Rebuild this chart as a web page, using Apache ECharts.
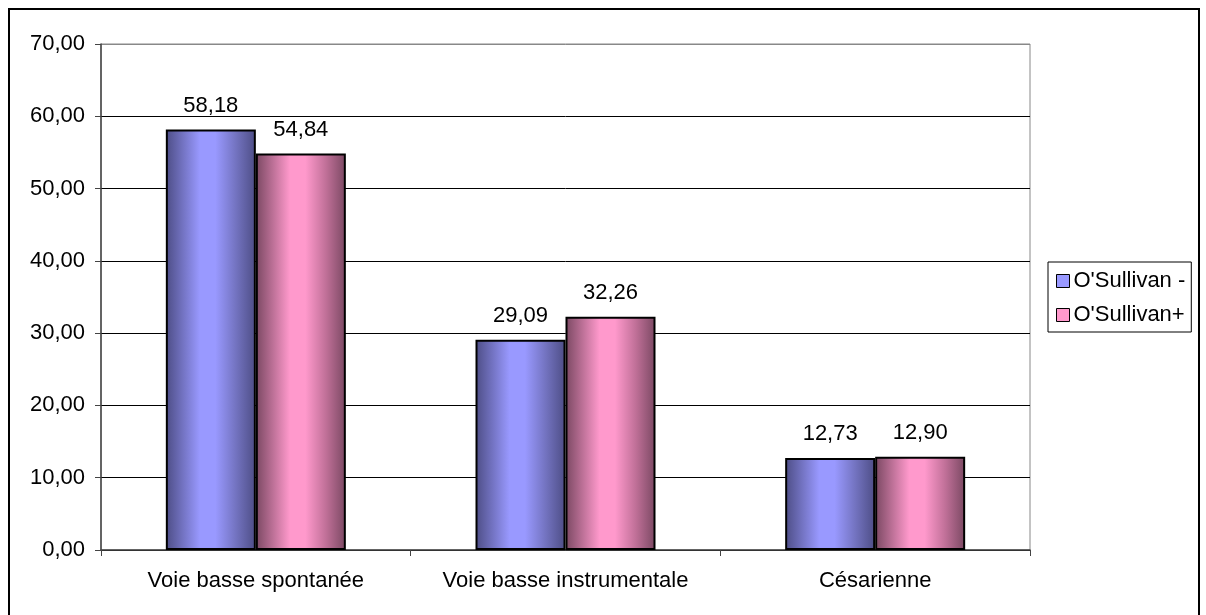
<!DOCTYPE html>
<html>
<head>
<meta charset="utf-8">
<script src="https://cdn.jsdelivr.net/npm/echarts@6/dist/echarts.min.js"></script>
<style>
  html, body { margin: 0; padding: 0; background: #fff; }
  #chart { width: 1206px; height: 615px; }
</style>
</head>
<body>
<div id="chart"></div>
<script>
  // data
  var categories = ['Voie basse spontanée', 'Voie basse instrumentale', 'Césarienne'];
  var seriesNames = ["O'Sullivan -", "O'Sullivan+"];
  var valuesMinus = [58.18, 29.09, 12.73];
  var valuesPlus = [54.84, 32.26, 12.90];
  var yTicks = [0, 10, 20, 30, 40, 50, 60, 70];

  var font = "'Liberation Sans', Arial, sans-serif";
  var fs = 22;

  function fr(v) {
    return v.toFixed(2).replace('.', ',');
  }

  function barGradient(dark, light, mid) {
    return new echarts.graphic.LinearGradient(0, 0, 1, 0, [
      { offset: 0, color: dark },
      { offset: 0.38, color: light },
      { offset: 0.55, color: light },
      { offset: 0.78, color: mid },
      { offset: 1, color: dark }
    ]);
  }

  var chart = echarts.init(document.getElementById('chart'));

  var option = {
    animation: false,
    backgroundColor: '#fff',
    textStyle: { fontFamily: font },
    graphic: [{
      type: 'rect',
      shape: { x: 9, y: 9, width: 1190, height: 620 },
      style: { fill: 'none', stroke: '#000', lineWidth: 2 },
      silent: true
    }],
    grid: {
      left: 101,
      right: 176,
      top: 44,
      bottom: 65,
      show: true,
      borderColor: '#888',
      borderWidth: 1
    },
    legend: {
      orient: 'vertical',
      left: 1048,
      top: 262,
      padding: [8, 6, 6, 8],
      borderColor: '#000',
      borderWidth: 1,
      itemWidth: 13,
      itemHeight: 13,
      itemGap: 12,
      icon: 'rect',
      textStyle: { fontFamily: font, fontSize: fs, color: '#000', padding: [0, 0, 0, -1] },
      data: [
        { name: seriesNames[0], itemStyle: { color: '#9999ff', borderColor: '#000', borderWidth: 1 } },
        { name: seriesNames[1], itemStyle: { color: '#ff99cc', borderColor: '#000', borderWidth: 1 } }
      ]
    },
    xAxis: {
      type: 'category',
      data: categories,
      axisLine: { lineStyle: { color: '#444', width: 1.5 } },
      axisTick: { show: true, length: 6, lineStyle: { color: '#444' } },
      axisLabel: { color: '#000', fontSize: fs, margin: 20, fontFamily: font, interval: 0, hideOverlap: false }
    },
    yAxis: {
      type: 'value',
      min: yTicks[0],
      max: yTicks[yTicks.length - 1],
      interval: 10,
      axisLine: { show: true, lineStyle: { color: '#444', width: 1.5 } },
      axisTick: { show: true, length: 6, lineStyle: { color: '#444' } },
      axisLabel: {
        color: '#000',
        fontSize: fs,
        margin: 16,
        fontFamily: font,
        formatter: function (v) { return fr(v); }
      },
      splitLine: {
        lineStyle: {
          color: ['#000', '#000', '#000', '#000', '#000', '#000', '#000', '#888'],
          width: 1
        }
      }
    },
    series: [
      {
        name: seriesNames[0],
        type: 'bar',
        data: valuesMinus,
        barWidth: 90,
        barGap: '0%',
        itemStyle: {
          color: barGradient('#4d4d85', '#9999ff', '#7373c0'),
          borderColor: '#000',
          borderWidth: 2
        },
        label: {
          show: true,
          position: 'top',
          distance: 13,
          color: '#000',
          fontSize: fs,
          fontFamily: font,
          formatter: function (p) { return fr(p.value); }
        }
      },
      {
        name: seriesNames[1],
        type: 'bar',
        data: valuesPlus,
        barWidth: 90,
        barGap: '0%',
        itemStyle: {
          color: barGradient('#7a4862', '#ff99cc', '#c07098'),
          borderColor: '#000',
          borderWidth: 2
        },
        label: {
          show: true,
          position: 'top',
          distance: 13,
          color: '#000',
          fontSize: fs,
          fontFamily: font,
          formatter: function (p) { return fr(p.value); }
        }
      }
    ]
  };

  chart.setOption(option);
</script>
</body>
</html>
